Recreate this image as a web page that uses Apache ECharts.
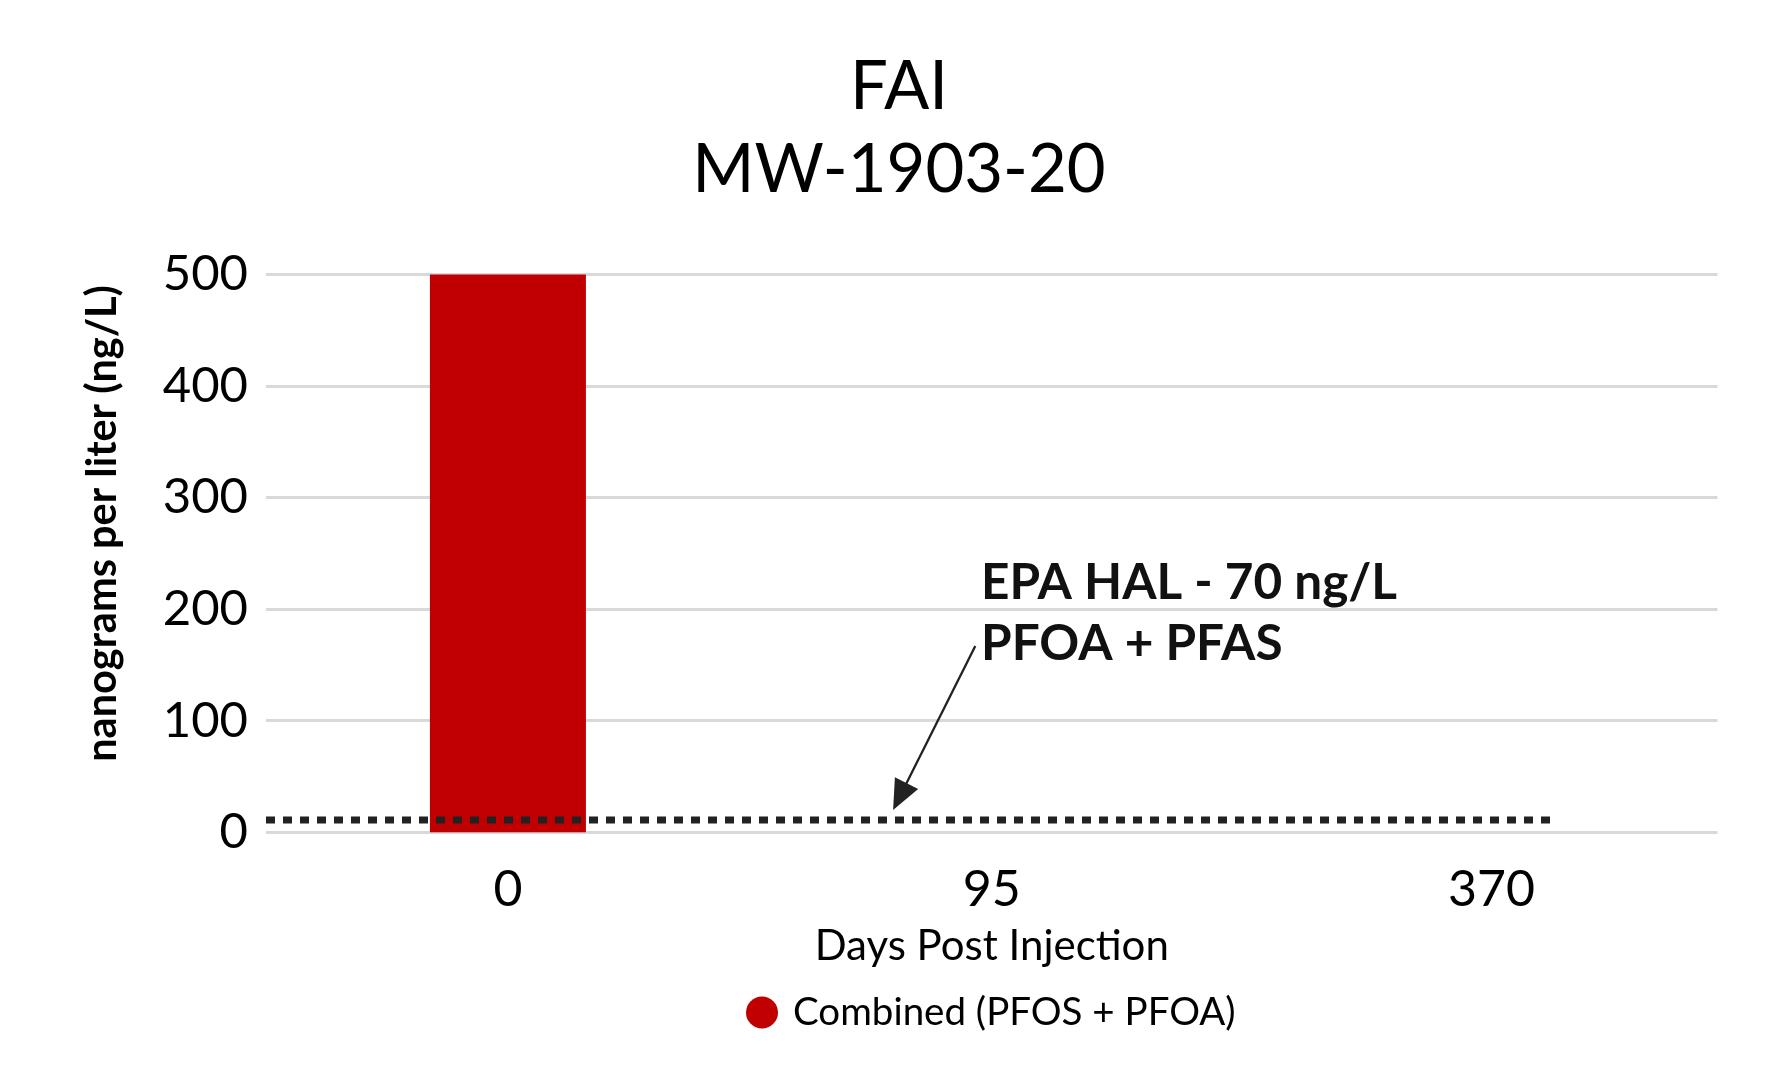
<!DOCTYPE html>
<html>
<head>
<meta charset="utf-8">
<script src="https://cdn.jsdelivr.net/npm/echarts@6/dist/echarts.min.js"></script>
<style>
html,body{margin:0;padding:0;background:#fff;}
#chart{width:1791px;height:1085px;}
</style>
</head>
<body>
<div id="chart"></div>
<script>
// Data
var categories = ['0', '95', '370'];
var combinedValues = [500, null, null];
var yTicks = {min: 0, max: 500, interval: 100};
// Reference line (EPA HAL) drawn on a hidden 0..3 value axis spanning the categories
var halLine = [[0, 11], [2.66, 11]];
// Arrow from annotation text to the reference line
var arrowStart = [1.466, 167];
var arrowEnd = [1.31, 32];
var titleText = 'FAI\nMW-1903-20';
var annotationText = 'EPA HAL - 70 ng/L\nPFOA + PFAS';
var seriesName = 'Combined (PFOS + PFOA)';

var chart = echarts.init(document.getElementById('chart'));
chart.setOption({
  animation: false,
  backgroundColor: '#ffffff',
  title: {
    text: titleText,
    left: 894,
    top: 41,
    textAlign: 'center',
    textStyle: {fontFamily: 'Lato', fontWeight: 'normal', fontSize: 67, lineHeight: 83, color: '#000'}
  },
  legend: {
    data: [{name: seriesName, icon: 'circle'}],
    left: 741,
    top: 988,
    itemWidth: 52,
    itemHeight: 32,
    itemGap: 10,
    textStyle: {fontFamily: 'Lato', fontSize: 38.5, color: '#000'}
  },
  grid: {left: 266, right: 73.5, top: 274.5, bottom: 252.7, containLabel: false},
  xAxis: [{
    type: 'category',
    data: categories,
    name: 'Days Post Injection',
    nameLocation: 'middle',
    nameGap: 93,
    nameTextStyle: {fontFamily: 'Lato', fontSize: 42, color: '#000'},
    axisLine: {show: false},
    axisTick: {show: false},
    axisLabel: {
      fontFamily: 'Lato', fontSize: 50, color: '#000', margin: 33,
      formatter: function (v, i) { return i === categories.length - 1 ? '{s|' + v + '}' : v; },
      rich: {s: {fontFamily: 'Lato', fontSize: 50, color: '#000', padding: [0, 0, 0, 32]}}
    }
  }, {
    type: 'value',
    min: 0,
    max: 3,
    show: false
  }],
  yAxis: {
    type: 'value',
    min: yTicks.min,
    max: yTicks.max,
    interval: yTicks.interval,
    name: 'nanograms per liter (ng/L)',
    nameLocation: 'middle',
    nameGap: 142,
    nameRotate: 90,
    nameTextStyle: {fontFamily: 'Lato', fontWeight: 'bold', fontSize: 41.5, color: '#000', padding: [0, 0, 0, 60]},
    axisLine: {show: false},
    axisTick: {show: false},
    axisLabel: {fontFamily: 'Lato', fontSize: 49, color: '#000', margin: 18},
    splitLine: {lineStyle: {color: '#d9d9d9', width: 3}}
  },
  series: [{
    name: seriesName,
    type: 'bar',
    data: combinedValues,
    barWidth: 156,
    itemStyle: {color: '#C00000'},
    z: 2
  }, {
    name: 'EPA HAL',
    type: 'line',
    xAxisIndex: 1,
    data: halLine,
    symbol: 'none',
    silent: true,
    z: 5,
    lineStyle: {color: '#222222', width: 7, type: [9, 8], cap: 'butt'},
    markLine: {
      silent: true,
      symbol: ['none', 'triangle'],
      symbolSize: [26, 30],
      label: {show: false},
      lineStyle: {color: '#222222', width: 2.3, type: 'solid'},
      data: [[{coord: arrowStart}, {coord: arrowEnd}]]
    }
  }],
  graphic: [{
    type: 'text',
    left: 981,
    top: 553,
    style: {
      text: annotationText,
      font: 'bold 49.5px Lato',
      lineHeight: 61,
      fill: '#111'
    }
  }]
});
</script>
</body>
</html>
